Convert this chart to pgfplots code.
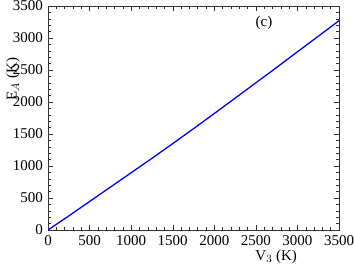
\documentclass[border=0pt]{standalone}
\usepackage{pgfplots}
\pgfplotsset{compat=1.18}
\usepackage{fontspec}
\setmainfont{Liberation Serif}
\begin{document}
\fontsize{15}{17}\selectfont
\begin{tikzpicture}
\begin{axis}[
  scale only axis, width=291pt, height=224pt,
  xmin=0, xmax=3500, ymin=0, ymax=3500,
  xtick={0,500,...,3500}, ytick={0,500,...,3500},
  minor x tick num=4, minor y tick num=4,
  tick align=inside, major tick length=5pt, minor tick length=3pt,
  xticklabel style={font=\fontsize{15}{17}\selectfont},
  yticklabel style={font=\fontsize{15}{17}\selectfont},
  /pgf/number format/assume math mode=true,
  /pgf/number format/1000 sep={},
  xlabel={V$_3$ (K)}, ylabel={E$_A$ (K)},
  xlabel style={at={(axis description cs:0.784,0)}, anchor=north, yshift=-15pt, font=\fontsize{15}{17}\selectfont},
  ylabel style={at={(axis description cs:0,0.674)}, anchor=south, yshift=27pt, inner sep=1pt, font=\fontsize{15}{17}\selectfont},
  axis line style={black!80},
  every tick/.style={black!80},
]
\addplot[blue, line width=1.3pt] coordinates {
(0,0) (250,220) (500,445) (750,670) (1000,895) (1250,1120) (1500,1350)
(1750,1583) (2000,1820) (2250,2060) (2500,2300) (2750,2540) (3000,2785)
(3250,3027) (3500,3270)
};
\node[font=\fontsize{15}{17}\selectfont] at (axis cs:2598,3234) {(c)};
\coordinate (sw) at (rel axis cs:0,0);
\coordinate (ne) at (rel axis cs:1,1);
\end{axis}
\pgfresetboundingbox
\path ([shift={(-48pt,-36pt)}]sw) rectangle ([shift={(15pt,6pt)}]ne);
\end{tikzpicture}
\end{document}
